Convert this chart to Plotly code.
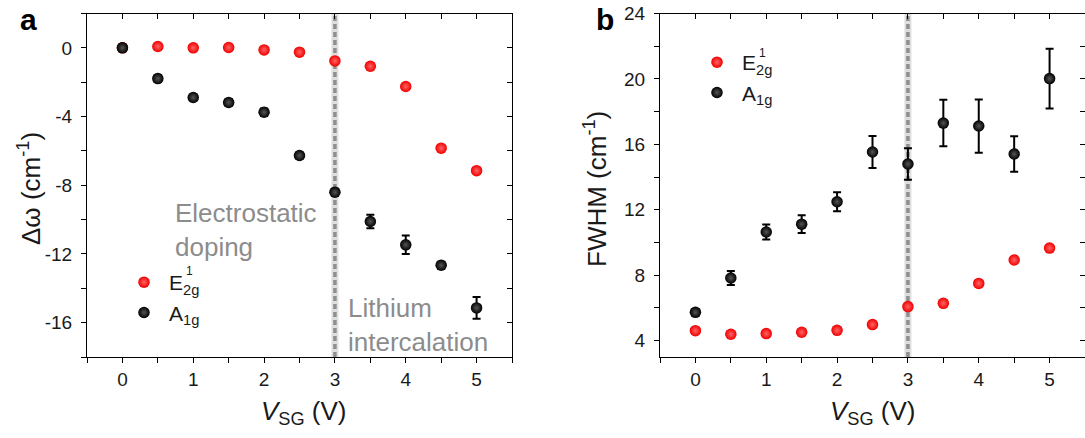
import plotly.graph_objects as go

# Gate voltage steps (V)
v_sg = [0, 0.5, 1, 1.5, 2, 2.5, 3, 3.5, 4, 4.5, 5]
x_ticks = [0, 1, 2, 3, 4, 5]

# Panel a: Raman shift relative to 0 V (cm^-1)
e2g_shift = [0.0, 0.08, 0.0, 0.02, -0.12, -0.25, -0.76, -1.07, -2.25, -5.84, -7.15]
a1g_shift = [0.0, -1.79, -2.89, -3.18, -3.75, -6.27, -8.41, -10.11, -11.47, -12.66, -15.14]
a1g_shift_err = [0.2, 0.2, 0.18, 0.2, 0.22, 0.18, 0.2, 0.39, 0.54, 0.2, 0.63]
shift_ticks = [0, -4, -8, -12, -16]
shift_tick_labels = ["0", "-4", "-8", "-12", "-16"]

# Panel b: peak widths (cm^-1)
e2g_fwhm = [4.61, 4.39, 4.43, 4.51, 4.63, 4.98, 6.08, 6.28, 7.50, 8.93, 9.66]
a1g_fwhm = [5.73, 7.83, 10.64, 11.12, 12.49, 15.53, 14.80, 17.30, 17.12, 15.41, 20.02]
a1g_fwhm_err = [0.2, 0.43, 0.46, 0.54, 0.58, 0.98, 0.96, 1.42, 1.63, 1.08, 1.83]
fwhm_ticks = [4, 8, 12, 16, 20, 24]

# Boundary between electrostatic doping and intercalation
v_boundary = 3

W, H = 1085, 438
FONT = "Liberation Sans, Arial, sans-serif"
INK = "#1a1a1a"
GREY_TXT = "#8c8c8c"

red_marker = dict(color="#f00000", size=11.5, line=dict(width=0),
                  gradient=dict(type="radial", color="#ff6464"))
blk_marker = dict(color="#000000", size=11.5, line=dict(width=0),
                  gradient=dict(type="radial", color="#555555"))
err_style = dict(type="data", visible=True, color="black", thickness=2, width=4)

fig = go.Figure()

fig.add_trace(go.Scatter(x=v_sg, y=e2g_shift, mode="markers", marker=red_marker,
                         name="E<sub>2g</sub>", legend="legend", xaxis="x", yaxis="y"))
fig.add_trace(go.Scatter(x=v_sg, y=a1g_shift, mode="markers", marker=blk_marker,
                         error_y=dict(array=a1g_shift_err, **err_style),
                         name="A<sub>1g</sub>", legend="legend", xaxis="x", yaxis="y"))
fig.add_trace(go.Scatter(x=v_sg, y=e2g_fwhm, mode="markers", marker=red_marker,
                         name="E<sub>2g</sub>", legend="legend2", xaxis="x2", yaxis="y2"))
fig.add_trace(go.Scatter(x=v_sg, y=a1g_fwhm, mode="markers", marker=blk_marker,
                         error_y=dict(array=a1g_fwhm_err, **err_style),
                         name="A<sub>1g</sub>", legend="legend2", xaxis="x2", yaxis="y2"))

dom_a = [87 / W, 512 / W]
dom_b = [660 / W, 1.0]
dom_y = [1 - 357 / H, 1 - 13.5 / H]

tickfont = dict(family=FONT, size=19, color=INK)


def xax(domain, anchor, overlay=None):
    base = dict(domain=domain, range=[-0.5, 5.5], tickmode="array", tickvals=x_ticks,
                ticktext=[str(v) for v in x_ticks], automargin=False,
                showline=True, linecolor="black", linewidth=1.2,
                showgrid=False, zeroline=False, tickcolor="black", tickwidth=1.2,
                ticklen=5, tickfont=tickfont, ticklabelstandoff=0,
                minor=dict(tick0=0, dtick=0.5, ticklen=5, tickcolor="black", tickwidth=1.2))
    if overlay is None:
        base.update(anchor=anchor, ticks="outside", side="bottom")
        base["minor"]["ticks"] = "outside"
    else:
        base.update(anchor=anchor, overlaying=overlay, side="top", ticks="inside",
                    showticklabels=False)
        base["minor"]["ticks"] = "inside"
    return base


def yax(domain, anchor, rng, tickvals, ticktext, overlay=None):
    base = dict(domain=domain, range=rng, tickmode="array", tickvals=tickvals,
                ticktext=ticktext, automargin=False,
                showline=True, linecolor="black", linewidth=1.2,
                showgrid=False, zeroline=False, tickcolor="black", tickwidth=1.2,
                ticklen=5, tickfont=tickfont, ticklabelstandoff=5,
                minor=dict(tick0=0, dtick=2, ticklen=5, tickcolor="black", tickwidth=1.2))
    if overlay is None:
        base.update(anchor=anchor, ticks="outside", side="left")
        base["minor"]["ticks"] = "outside"
    else:
        base.update(anchor=anchor, overlaying=overlay, side="right", ticks="inside",
                    showticklabels=False)
        base["minor"]["ticks"] = "inside"
    return base


legend_font = dict(family=FONT, size=21, color=INK)
fwhm_labels = [str(v) for v in fwhm_ticks]
layout = dict(
    width=W, height=H, margin=dict(l=0, r=0, t=0, b=0, pad=0, autoexpand=False),
    paper_bgcolor="white", plot_bgcolor="rgba(0,0,0,0)",
    font=dict(family=FONT, color=INK),
    xaxis=xax(dom_a, "y"),
    yaxis=yax(dom_y, "x", [-18, 2], shift_ticks, shift_tick_labels),
    xaxis3=xax(dom_a, "y3", overlay="x"),
    yaxis3=yax(dom_y, "x3", [-18, 2], shift_ticks, shift_tick_labels, overlay="y"),
    xaxis2=xax(dom_b, "y2"),
    yaxis2=yax(dom_y, "x2", [3, 24], fwhm_ticks, fwhm_labels),
    xaxis4=xax(dom_b, "y4", overlay="x2"),
    yaxis4=yax(dom_y, "x4", [3, 24], fwhm_ticks, fwhm_labels, overlay="y2"),
    legend=dict(x=119 / W, y=1 - 262 / H, xanchor="left", yanchor="top",
                bgcolor="rgba(0,0,0,0)", font=legend_font,
                itemwidth=40, tracegroupgap=0),
    legend2=dict(x=692 / W, y=1 - 42 / H, xanchor="left", yanchor="top",
                 bgcolor="rgba(0,0,0,0)", font=legend_font,
                 itemwidth=40, tracegroupgap=0),
    showlegend=True,
)
fig.update_layout(**layout)
# overlay axes need a dummy trace each to be drawn
for xa, ya in (("x3", "y3"), ("x4", "y4")):
    fig.add_trace(go.Scatter(x=[None], y=[None], xaxis=xa, yaxis=ya,
                             showlegend=False, hoverinfo="skip"))

# Boundary line at the onset of intercalation
for xr, yr in (("x", "y domain"), ("x2", "y2 domain")):
    fig.add_shape(type="line", xref=xr, yref=yr, x0=v_boundary, x1=v_boundary, y0=0, y1=1,
                  line=dict(color="rgba(160,160,160,0.35)", width=7), layer="below")
    fig.add_shape(type="line", xref=xr, yref=yr, x0=v_boundary, x1=v_boundary, y0=0, y1=1,
                  line=dict(color="#8f8f8f", width=3.5, dash="5px,3px"), layer="below")

ann = []
# Panel letters
letter_font = dict(family=FONT, size=30, color="black")
ann.append(dict(text="<b>a</b>", x=18 / W, y=1 - 19 / H, xref="paper", yref="paper",
                xanchor="left", yanchor="middle", showarrow=False, font=letter_font))
ann.append(dict(text="<b>b</b>", x=594 / W, y=1 - 19 / H, xref="paper", yref="paper",
                xanchor="left", yanchor="middle", showarrow=False, font=letter_font))
# Superscript mode index stacked over the subscript in the legend labels
sup_font = dict(family=FONT, size=12, color=INK)
for sx, sy in ((184, 271), (757, 53)):
    ann.append(dict(text="1", x=sx / W, y=1 - sy / H, xref="paper", yref="paper",
                    xanchor="left", yanchor="middle", showarrow=False, font=sup_font))
# Axis titles
title_font = dict(family=FONT, size=26, color=INK)
for cx in ((dom_a[0] + dom_a[1]) / 2 + 4 / W, (dom_b[0] + 1085 / W) / 2):
    ann.append(dict(text="<i>V</i><sub>SG</sub> (V)", x=cx, y=1 - 412 / H,
                    xref="paper", yref="paper", xanchor="center", yanchor="middle",
                    showarrow=False, font=title_font))
ann.append(dict(text="Δω (cm<sup>-1</sup>)", x=30 / W, y=1 - 189 / H, xref="paper",
                yref="paper", xanchor="center", yanchor="middle", textangle=-90,
                showarrow=False, font=title_font))
ann.append(dict(text="FWHM (cm<sup>-1</sup>)", x=596 / W, y=1 - 189 / H, xref="paper",
                yref="paper", xanchor="center", yanchor="middle", textangle=-90,
                showarrow=False, font=title_font))
# Regime labels
region_font = dict(family=FONT, size=26, color=GREY_TXT)
ann.append(dict(text="Electrostatic<br>doping", x=173 / W, y=1 - 196 / H, xref="paper",
                yref="paper", xanchor="left", yanchor="top", align="left",
                showarrow=False, font=region_font))
ann.append(dict(text="Lithium<br>intercalation", x=346 / W, y=1 - 291 / H, xref="paper",
                yref="paper", xanchor="left", yanchor="top", align="left",
                showarrow=False, font=region_font))
fig.update_layout(annotations=ann)

fig.write_html("out.html")
